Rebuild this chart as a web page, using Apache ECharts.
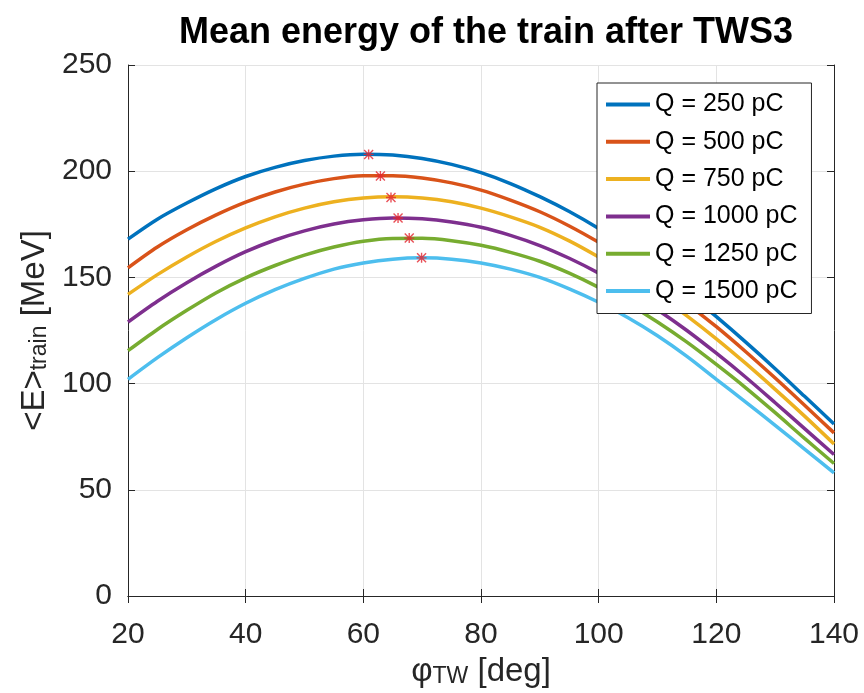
<!DOCTYPE html>
<html>
<head>
<meta charset="utf-8">
<script src="https://cdn.jsdelivr.net/npm/echarts@6/dist/echarts.min.js"></script>
<style>html,body{margin:0;padding:0;background:#fff;}#c{width:864px;height:693px;}</style>
</head>
<body>
<div id="c"></div>
<script>
const phi = [20, 25, 30, 35, 40, 45, 50, 55, 60, 65, 70, 75, 80, 85, 90, 95, 100, 105, 110, 115, 120, 125, 130, 135, 140];
const seriesNames = ['Q = 250 pC', 'Q = 500 pC', 'Q = 750 pC', 'Q = 1000 pC', 'Q = 1250 pC', 'Q = 1500 pC'];
const e250  = [168, 177.4, 185, 191.8, 197.5, 201.8, 205, 207.1, 208, 207.6, 206, 203.2, 199.3, 194.2, 188, 181, 173, 164, 154, 143, 131.5, 119.5, 107, 94, 81];
const e500  = [154.5, 164.3, 172.4, 179.4, 185.4, 190.2, 193.9, 196.5, 197.8, 197.9, 196.8, 194.5, 191.1, 186.4, 180.9, 174.2, 166.5, 158, 148.2, 137.7, 126.8, 115, 102.6, 89.8, 76.8];
const e750  = [142, 151.3, 159.6, 167, 173.3, 178.5, 182.6, 185.6, 187.4, 188, 187.4, 185.6, 182.6, 178.5, 173.6, 167.2, 159.6, 151.3, 142, 131.9, 121.1, 109.5, 97.3, 84.7, 71.6];
const e1000 = [129, 138.8, 147.5, 155.3, 162.1, 167.6, 171.9, 175.1, 177.1, 178, 177.6, 176.1, 173.6, 169.8, 165, 159, 152, 143.8, 134.8, 125, 114.3, 103, 91, 78.8, 66.6];
const e1250 = [115.5, 125.5, 134.5, 142.8, 149.8, 155.6, 160.5, 164.3, 167, 168.3, 168.4, 167.3, 165.1, 161.8, 157.6, 152, 145.3, 137.6, 129, 119.5, 109, 98, 86.3, 74.2, 62.4];
const e1500 = [102, 112.2, 121.6, 130.2, 137.8, 144.2, 149.5, 153.9, 156.8, 158.6, 159.2, 158.6, 156.8, 153.9, 150, 144.6, 138.3, 131, 122.5, 112.8, 102, 91.3, 80.3, 69.2, 58];
const peakPhi = [60.9, 62.9, 64.7, 65.9, 67.8, 69.9];
const peakE = [207.9, 197.7, 187.6, 178, 168.5, 159.2];
const xTicks = [20, 40, 60, 80, 100, 120, 140];
const yTicks = [0, 50, 100, 150, 200, 250];

const colors = ['#0072BD', '#D95319', '#EDB120', '#7E2F8E', '#77AC30', '#4DBEEE'];
const allE = [e250, e500, e750, e1000, e1250, e1500];
const FONT = 'Liberation Sans';
const AX = '#262626';

const chart = echarts.init(document.getElementById('c'), null, {renderer: 'canvas'});

const lineSeries = allE.map((arr, i) => ({
  name: seriesNames[i],
  type: 'line',
  xAxisIndex: 0, yAxisIndex: 0,
  data: phi.map((p, j) => [p, arr[j]]),
  smooth: 0.3,
  showSymbol: false,
  lineStyle: {width: 3.5, color: colors[i]},
  itemStyle: {color: colors[i]},
  z: 2
}));

const star = 'path://M8.6 0 L11.4 0 L11.4 20 L8.6 20 Z M0 8.6 L20 8.6 L20 11.4 L0 11.4 Z M2 0 L20 18 L18 20 L0 2 Z M18 0 L20 2 L2 20 L0 18 Z';

const nameRich = {
  a: {fontFamily: FONT, fontSize: 33, color: AX, lineHeight: 36, verticalAlign: 'bottom'},
  s: {fontFamily: FONT, fontSize: 23, color: AX, lineHeight: 16, verticalAlign: 'bottom'}
};

const option = {
  backgroundColor: '#fff',
  animation: false,
  title: {
    text: 'Mean energy of the train after TWS3',
    left: 481, top: 10, textAlign: 'center',
    textStyle: {fontFamily: FONT, fontSize: 36, fontWeight: 'bold', color: '#000'}
  },
  grid: {left: 128, right: 30, top: 65, bottom: 94, containLabel: false},
  legend: {
    data: seriesNames,
    orient: 'vertical',
    left: 597, top: 83,
    padding: [9, 14, 10, 9],
    itemWidth: 44, itemHeight: 4, itemGap: 12.3, itemTextGap: 8,
    icon: 'rect',
    backgroundColor: '#fff',
    borderColor: AX, borderWidth: 1,
    textStyle: {fontFamily: FONT, fontSize: 25, color: '#000', lineHeight: 25}
  },
  xAxis: [{
    type: 'value', min: 20, max: 140, interval: 20, position: 'bottom',
    name: '{a|φ}{s|TW}{a| [deg]}',
    nameLocation: 'middle', nameGap: 56,
    nameTextStyle: {rich: nameRich},
    axisLine: {show: true, lineStyle: {color: AX, width: 1}},
    axisTick: {show: true, inside: true, length: 7, lineStyle: {color: AX}},
    axisLabel: {fontFamily: FONT, fontSize: 30, color: AX, margin: 24,
      formatter: v => xTicks.includes(v) ? String(v) : ''},
    splitLine: {show: true, lineStyle: {color: '#e3e3e3', width: 1}}
  }, {
    type: 'value', min: 20, max: 140, interval: 20, position: 'top',
    axisLine: {show: true, lineStyle: {color: AX, width: 1}},
    axisTick: {show: true, inside: true, length: 7, lineStyle: {color: AX}},
    axisLabel: {show: false},
    splitLine: {show: false}
  }],
  yAxis: [{
    type: 'value', min: 0, max: 250, interval: 50, position: 'left',
    name: '{a|<E>}{s|train}{a| [MeV]}',
    nameLocation: 'middle', nameGap: 70, nameRotate: 90,
    nameTextStyle: {rich: nameRich},
    axisLine: {show: true, lineStyle: {color: AX, width: 1}},
    axisTick: {show: true, inside: true, length: 7, lineStyle: {color: AX}},
    axisLabel: {fontFamily: FONT, fontSize: 30, color: AX, margin: 16,
      formatter: v => yTicks.includes(v) ? String(v) : ''},
    splitLine: {show: true, lineStyle: {color: '#e3e3e3', width: 1}}
  }, {
    type: 'value', min: 0, max: 250, interval: 50, position: 'right',
    axisLine: {show: true, lineStyle: {color: AX, width: 1}},
    axisTick: {show: true, inside: true, length: 7, lineStyle: {color: AX}},
    axisLabel: {show: false},
    splitLine: {show: false}
  }],
  series: lineSeries.concat([{
    name: 'peaks',
    type: 'scatter',
    xAxisIndex: 0, yAxisIndex: 0,
    data: peakPhi.map((p, i) => [p, peakE[i]]),
    symbol: star,
    symbolSize: 10,
    itemStyle: {color: '#E3262E'},
    z: 3
  }])
};
chart.setOption(option);
</script>
</body>
</html>
